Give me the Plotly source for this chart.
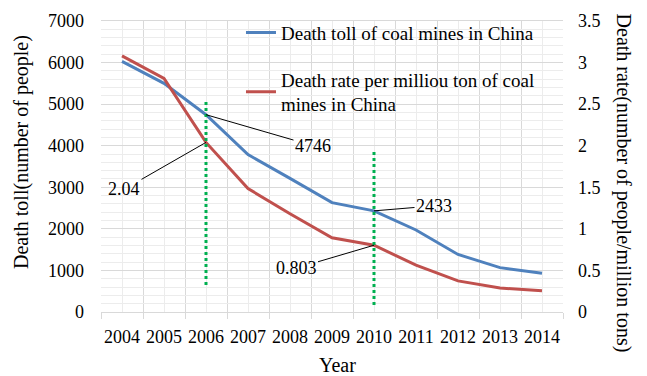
import plotly.graph_objects as go

# Coal mine safety statistics, China 2004-2014
years = [2004, 2005, 2006, 2007, 2008, 2009, 2010, 2011, 2012, 2013, 2014]
death_toll = [6027, 5500, 4746, 3786, 3215, 2631, 2433, 1973, 1384, 1067, 931]
death_rate = [3.08, 2.81, 2.04, 1.485, 1.182, 0.892, 0.803, 0.564, 0.374, 0.288, 0.255]

toll_name = "Death toll of coal mines in China"
rate_name = "Death rate per milliou ton of coal<br>mines in China"

# Years highlighted with dotted markers (left-axis extent of each marker)
marker_years = [2006, 2010]
marker_top = [5100, 3900]
marker_bottom = [650, 170]

BLUE = "#4F81BD"
RED = "#C0504D"
GREEN = "#00B050"
GRID = "#D9D9D9"
GRID_MINOR = "#ECECEC"
FONT = "Liberation Serif"

fig = go.Figure()
fig.add_trace(go.Scatter(x=years, y=death_toll, mode="lines", name=toll_name,
                         line=dict(color=BLUE, width=3), legendgroup="a"))
fig.add_trace(go.Scatter(x=years, y=death_rate, mode="lines", name=rate_name,
                         line=dict(color=RED, width=3), yaxis="y2", legendgroup="b"))

for yr, top, bot in zip(marker_years, marker_top, marker_bottom):
    fig.add_shape(type="line", xref="x", yref="y", x0=yr, x1=yr, y0=bot, y1=top,
                  line=dict(color=GREEN, width=3, dash="dot"), layer="above")

i06 = years.index(2006)
i10 = years.index(2010)
ann = dict(showarrow=True, arrowhead=0, arrowwidth=1, arrowcolor="black",
           font=dict(family=FONT, size=18, color="black"))
fig.add_annotation(x=2006, y=death_toll[i06], text=str(death_toll[i06]),
                   ax=107, ay=31, **ann)
fig.add_annotation(x=2006, y=death_rate[i06], yref="y2", text=f"{death_rate[i06]:.2f}",
                   ax=-82, ay=47, **ann)
fig.add_annotation(x=2010, y=death_toll[i10], text=str(death_toll[i10]),
                   ax=60, ay=-5, **ann)
fig.add_annotation(x=2010, y=death_rate[i10], yref="y2", text=f"{death_rate[i10]:.3f}",
                   ax=-78, ay=23, **ann)

# Axis titles
title_font = dict(family=FONT, size=20, color="black")
fig.add_annotation(xref="paper", yref="paper", x=-0.171, y=0.55, xanchor="center",
                   yanchor="middle", text="Death toll(number of people)",
                   textangle=-90, showarrow=False, font=title_font)
fig.add_annotation(xref="paper", yref="paper", x=1.131, y=0.443, xanchor="center",
                   yanchor="middle", text="Death rate(number of people/million tons)",
                   textangle=90, showarrow=False, font=title_font)
fig.add_annotation(xref="paper", yref="paper", x=0.512, y=-0.182, text="Year",
                   xanchor="center", yanchor="middle", showarrow=False, font=title_font)

bounds = [y - 0.5 for y in years] + [years[-1] + 0.5]

fig.update_layout(
    width=647, height=376,
    margin=dict(l=101, r=84, t=21, b=64),
    paper_bgcolor="white", plot_bgcolor="white",
    font=dict(family=FONT, size=18, color="black"),
    showlegend=True,
    legend=dict(x=0.303, y=1.025, xanchor="left", yanchor="top",
                bgcolor="rgba(0,0,0,0)", tracegroupgap=19,
                font=dict(family=FONT, size=19, color="black"),
                itemwidth=30),
    xaxis=dict(range=[years[0] - 0.5, years[-1] + 0.5], tickvals=years,
               ticktext=[str(y) for y in years], showgrid=True, gridcolor=GRID_MINOR,
               gridwidth=1, ticks="", zeroline=False, showline=True, linecolor=GRID,
               mirror=True, ticklabelstandoff=8, tickfont=dict(family=FONT, size=18),
               minor=dict(tickvals=bounds, showgrid=True, gridcolor=GRID, ticks="outside",
                          ticklen=6, tickcolor=GRID)),
    yaxis=dict(range=[0, 7000], dtick=1000, showgrid=True, gridcolor=GRID, zeroline=False,
               showline=False, ticks="", ticklabelstandoff=16,
               tickfont=dict(family=FONT, size=18),
               minor=dict(dtick=200, showgrid=True, gridcolor=GRID_MINOR)),
    yaxis2=dict(range=[0, 3.5], dtick=0.5, overlaying="y", side="right", showgrid=False,
                zeroline=False, showline=False, ticks="", ticklabelstandoff=14,
                tickfont=dict(family=FONT, size=18), tickformat="~g"),
)

fig.write_html("out.html")
